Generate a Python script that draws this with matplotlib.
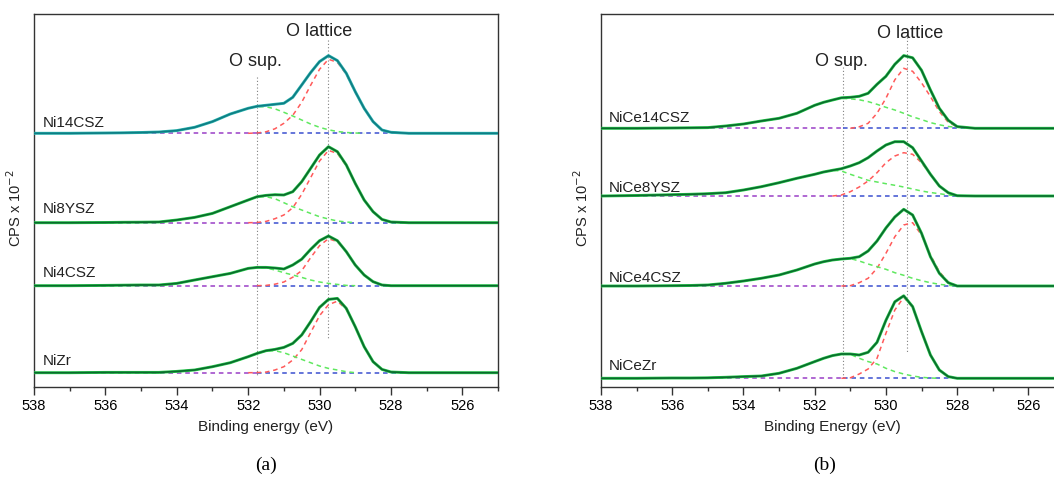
import numpy as np
import matplotlib
matplotlib.use('Agg')
import matplotlib.pyplot as plt
from matplotlib.ticker import MultipleLocator

plt.rcParams.update({'font.family': ['Liberation Sans', 'DejaVu Sans'],
                     'axes.linewidth': 1.0,
                     'axes.edgecolor': '#333333'})

# binding energy grid (eV)
energy = [538, 537, 536, 535.5, 535, 534.5, 534, 533.5, 533, 532.5, 532,
          531.75, 531.5, 531.25, 531, 530.75, 530.5, 530.25, 530, 529.75,
          529.5, 529.25, 529, 528.75, 528.5, 528.25, 528, 527.5, 527, 526, 525]

# ---- panel (a) ----
names_a = ['Ni14CSZ', 'Ni8YSZ', 'Ni4CSZ', 'NiZr']
offsets_a = [253.7, 164.3, 101.3, 14.3]
label_y_a = [264, 178, 114, 26]

ni14csz = [0, 0, 0.3, 0.5, 0.8, 1.3, 2.7, 6, 11.7, 19.3, 25, 27, 28, 29, 30, 36,
           48.3, 60.7, 71.7, 77.7, 72.7, 60, 41.7, 25, 11.7, 3.3, 1, 0, 0, 0, 0]
ni14csz_lat = [0, 0, 0, 0, 0, 0, 0, 0, 0, 0, 0, 0.3, 1.5, 4.5, 10, 18, 31, 48,
               64, 74, 71, 59, 41, 24.5, 11.5, 3.3, 1, 0, 0, 0, 0]
ni14csz_sup = [0, 0, 0.3, 0.5, 0.8, 1.3, 2.7, 6, 11.7, 19.3, 25, 26.7, 26.5,
               24.5, 21, 17.3, 13.3, 9.3, 6, 3.5, 1.8, 0.8, 0.3, 0, 0, 0, 0, 0,
               0, 0, 0]

ni8ysz = [0, 0, 0.2, 0.4, 0.5, 0.7, 2.7, 5.3, 9.3, 16, 22.7, 26, 27.3, 28, 27.7,
          31, 41, 54.3, 67.7, 76, 71, 57.7, 39.3, 22.7, 11, 3.3, 0.7, 0, 0, 0, 0]
ni8ysz_lat = [0, 0, 0, 0, 0, 0, 0, 0, 0, 0, 0, 0.2, 1.3, 4, 7.7, 15, 28.3, 45,
              61.7, 72.3, 69.3, 57, 39.3, 22.7, 11, 3.3, 0.7, 0, 0, 0, 0]
ni8ysz_sup = [0, 0, 0.2, 0.4, 0.5, 0.7, 2.7, 5.3, 9.3, 16, 22.7, 25.8, 26, 24,
              20, 16, 12.7, 9.3, 6, 3.7, 1.7, 0.7, 0, 0, 0, 0, 0, 0, 0, 0, 0]

ni4csz = [0, 0, 0.3, 0.5, 0.7, 0.7, 2.3, 5.7, 9, 12.3, 17.3, 18.3, 18.3, 17.7,
          16.7, 20.7, 26.5, 36.3, 45, 49.7, 45, 34, 20.7, 10.7, 4, 0.7, 0, 0,
          0, 0, 0]
ni4csz_lat = [0, 0, 0, 0, 0, 0, 0, 0, 0, 0, 0, 0, 0.3, 1.5, 3.7, 8.5, 15, 28,
              40, 47, 44, 34, 20.7, 10.7, 4, 0.7, 0, 0, 0, 0, 0]
ni4csz_sup = [0, 0, 0.3, 0.5, 0.7, 0.7, 2.3, 5.7, 9, 12.3, 17.3, 18, 17.8, 15.7,
              13, 10.7, 8.3, 5.7, 3.7, 2.3, 1.3, 0.3, 0, 0, 0, 0, 0, 0, 0, 0, 0]

nizr = [0, 0, 0.3, 0.3, 0.3, 0.3, 1.3, 2.7, 6, 10, 16, 19.3, 22, 23.3, 25.3,
        29.3, 37.7, 51, 65.3, 73.3, 74.3, 64.3, 46, 26, 11, 3.3, 0.7, 0, 0, 0, 0]
nizr_lat = [0, 0, 0, 0, 0, 0, 0, 0, 0, 0, 0, 0.1, 0.6, 2.7, 6, 12.7, 23, 40, 57,
            68, 71.5, 63.3, 46, 26, 11, 3.3, 0.7, 0, 0, 0, 0]
nizr_sup = [0, 0, 0.3, 0.3, 0.3, 0.3, 1.3, 2.7, 6, 10, 15.7, 19, 21.7, 22, 20,
            16.7, 13.3, 10, 6.7, 4.3, 2.7, 1, 0, 0, 0, 0, 0, 0, 0, 0, 0]

# ---- panel (b) ----
names_b = ['NiCe14CSZ', 'NiCe8YSZ', 'NiCe4CSZ', 'NiCeZr']
offsets_b = [258.7, 191, 101, 8.7]
label_y_b = [269, 199, 109, 21]

nice14csz = [0, 0, 0.3, 0.5, 0.7, 2.3, 4.3, 7.3, 10, 15, 23, 26, 28.3, 30.5, 31,
             32, 35, 44, 52, 64, 72.7, 70.5, 58, 38.3, 20, 8, 1.7, 0, 0, 0, 0]
nice14csz_lat = [0, 0, 0, 0, 0, 0, 0, 0, 0, 0, 0, 0, 0, 0, 0, 1.5, 5, 15, 30,
                 48.5, 60, 57, 45.5, 31.7, 16.7, 6, 1.5, 0, 0, 0, 0]
nice14csz_sup = [0, 0, 0.3, 0.5, 0.7, 2.3, 4.3, 7.3, 10, 15, 23, 26, 28.3, 30,
                 29.5, 28.5, 26.7, 24, 21, 18.3, 15, 11.5, 8.7, 5.7, 3.5, 1.8,
                 1, 0.3, 0, 0, 0]

nice8ysz = [0, 0.5, 1.3, 1.7, 2.3, 3.3, 6, 9.3, 13.3, 17.7, 21.7, 24, 25.7,
            27.3, 30, 33.3, 38.3, 45, 51, 54.3, 54.3, 48.3, 35, 21.7, 10, 3.3,
            0.3, 0, 0, 0, 0]
nice8ysz_lat = [0, 0, 0, 0, 0, 0, 0, 0, 0, 0, 0, 0, 0, 1, 4.3, 9, 15, 23.3,
                33.3, 40, 43.3, 41.7, 33.3, 21.7, 10, 3.3, 0.3, 0, 0, 0, 0]
nice8ysz_sup = [0, 0.5, 1.3, 1.7, 2.3, 3.3, 6, 9.3, 13.3, 17.7, 21.7, 24, 25.7,
                25, 21.7, 18.7, 15.7, 14, 12.3, 10.7, 9, 7, 5, 3.5, 2.3, 1, 0.3,
                0, 0, 0, 0]

nice4csz = [0, 0, 0.3, 0.5, 1, 2.7, 5, 7.7, 11, 16, 22, 24.3, 26, 27, 27.7, 29.3,
            35, 45, 58, 69, 76.7, 71, 52.7, 29.3, 12.7, 3.3, 0, 0, 0, 0, 0]
nice4csz_lat = [0, 0, 0, 0, 0, 0, 0, 0, 0, 0, 0, 0, 0, 0, 0.3, 3.3, 7.7, 17.7,
                32.7, 49.3, 61, 63.3, 51, 31, 14.3, 4, 0, 0, 0, 0, 0]
nice4csz_sup = [0, 0, 0.3, 0.5, 1, 2.7, 5, 7.7, 11, 16, 22, 24.3, 26, 27, 27.5,
                25, 22, 19.3, 16.7, 13.3, 10.7, 7.7, 5.3, 3.3, 1.7, 0.7, 0, 0,
                0, 0, 0]

nicezr = [0, 0, 0.3, 0.3, 0.5, 1, 1.7, 2.3, 5, 10, 16.7, 20, 22.7, 24.3, 24.3,
          23.3, 26, 36, 58, 76.5, 82.5, 71.7, 46.7, 23.3, 8.3, 1.7, 0, 0, 0, 0, 0]
nicezr_lat = [0, 0, 0, 0, 0, 0, 0, 0, 0, 0, 0, 0, 0, 0, 0.5, 4.3, 9.3, 20, 45,
              68.3, 81, 71, 46.5, 23.3, 8.3, 1.7, 0, 0, 0, 0, 0]
nicezr_sup = [0, 0, 0.3, 0.3, 0.5, 1, 1.7, 2.3, 5, 10, 16.7, 20, 22.7, 24.3, 24,
              20, 16.7, 14.3, 10, 6.7, 4.3, 2.3, 1, 0.3, 0, 0, 0, 0, 0, 0, 0]

# peak reference lines (eV)
sup_line_a, lat_line_a = 531.75, 529.75
sup_line_b, lat_line_b = 531.2, 529.4


def trimmed(y):
    y = np.asarray(y, float)
    nz = np.nonzero(y)[0]
    lo = max(nz.min() - 1, 0)
    hi = min(nz.max() + 1, len(y) - 1)
    return lo, hi + 1


def draw_panel(ax, names, offsets, label_y, meas, lat, sup, sup_e, lat_e,
               sup_rng, lat_rng, xlabel, teal_first):
    E = np.asarray(energy)
    for i, (nm, off, ly) in enumerate(zip(names, offsets, label_y)):
        # baseline: purple below the shoulder, blue under the main peak
        ax.plot([538, sup_e], [off, off], color='#9a3fc6', lw=1.1,
                dashes=(3, 2.5), zorder=2)
        ax.plot([sup_e, 525], [off, off], color='#3b4fd0', lw=1.1,
                dashes=(3, 2.5), zorder=2)
        lo, hi = trimmed(lat[i])
        ax.plot(E[lo:hi], off + np.asarray(lat[i])[lo:hi], color='#ff5a5a',
                lw=1.1, dashes=(3, 2.5), zorder=3)
        lo, hi = trimmed(sup[i])
        ax.plot(E[lo:hi], off + np.asarray(sup[i])[lo:hi], color='#5fe85f',
                lw=1.1, dashes=(3, 2.5), zorder=3)
        if teal_first and i == 0:
            c1, c2 = '#2db6b0', '#0e7d84'
        else:
            c1, c2 = '#27c94c', '#0a6a2d'
        y = off + np.asarray(meas[i])
        ax.plot(E, y, color=c1, lw=2.1, zorder=4, solid_joinstyle='round')
        ax.plot(E, y, color=c2, lw=1.2, zorder=5, solid_joinstyle='round')
        ax.text(E[0] - 0.25 + (0.0 if teal_first else 0.03), ly, nm,
                fontsize=11, ha='left', va='center', color='#222222')

    ax.plot([sup_e, sup_e], sup_rng, color='#808080', lw=0.8,
            ls=(0, (1, 2)), zorder=1)
    ax.plot([lat_e, lat_e], lat_rng, color='#808080', lw=0.8,
            ls=(0, (1, 2)), zorder=1)

    ax.set_xlim(538, 525)
    ax.set_ylim(0, 373)
    ax.xaxis.set_major_locator(MultipleLocator(2))
    ax.xaxis.set_minor_locator(MultipleLocator(1))
    ax.tick_params(axis='x', which='major', direction='out', length=6,
                   width=1.0, labelsize=10.5, pad=3, color='#333333')
    ax.tick_params(axis='x', which='minor', direction='out', length=3,
                   width=1.0, color='#333333')
    ax.set_yticks([])
    ax.set_xlabel(xlabel, fontsize=11, labelpad=5, color='#222222')
    ax.set_ylabel(r'CPS x 10$^{-2}$', fontsize=10.5, color='#222222')
    ax.yaxis.set_label_coords(-0.022, 0.48)


fig = plt.figure(figsize=(10.54, 4.8), dpi=100)
ax_a = fig.add_axes([34 / 1054, 93 / 480, 464 / 1054, 373 / 480])
ax_b = fig.add_axes([601 / 1054, 93 / 480, 463 / 1054, 373 / 480])

draw_panel(ax_a, names_a, offsets_a, label_y_a,
           [ni14csz, ni8ysz, ni4csz, nizr],
           [ni14csz_lat, ni8ysz_lat, ni4csz_lat, nizr_lat],
           [ni14csz_sup, ni8ysz_sup, ni4csz_sup, nizr_sup],
           sup_line_a, lat_line_a, (310, 12), (347, 47),
           'Binding energy (eV)', True)
draw_panel(ax_b, names_b, offsets_b, label_y_b,
           [nice14csz, nice8ysz, nice4csz, nicezr],
           [nice14csz_lat, nice8ysz_lat, nice4csz_lat, nicezr_lat],
           [nice14csz_sup, nice8ysz_sup, nice4csz_sup, nicezr_sup],
           sup_line_b, lat_line_b, (320, 7), (350, 34),
           'Binding Energy (eV)', False)

ax_a.text(530.02, 356, 'O lattice', fontsize=13, ha='center', va='center',
          color='#222222')
ax_a.text(531.8, 326, 'O sup.', fontsize=13, ha='center', va='center',
          color='#222222')
ax_b.text(529.31, 354, 'O lattice', fontsize=13, ha='center', va='center',
          color='#222222')
ax_b.text(531.25, 326, 'O sup.', fontsize=13, ha='center', va='center',
          color='#222222')

fig.text(266 / 1054, 1 - 465 / 480, '(a)', fontsize=14, ha='center',
         va='center', family=['Liberation Serif', 'DejaVu Serif'])
fig.text(825 / 1054, 1 - 465 / 480, '(b)', fontsize=14, ha='center',
         va='center', family=['Liberation Serif', 'DejaVu Serif'])

fig.savefig('out.png', dpi=100)
